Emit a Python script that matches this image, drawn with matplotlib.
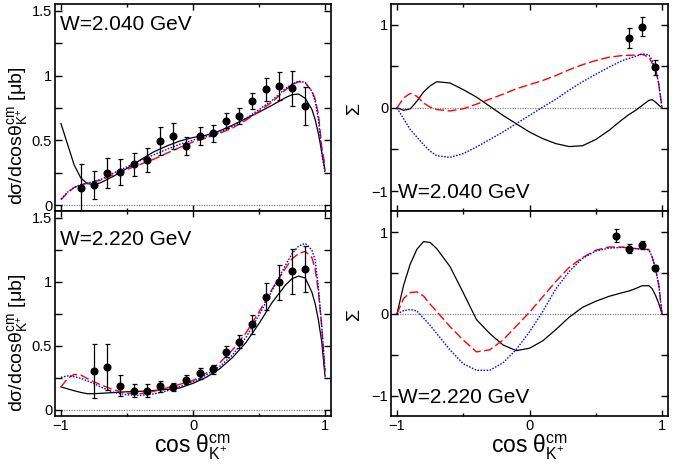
import matplotlib
matplotlib.use('Agg')
import matplotlib.pyplot as plt
from matplotlib.ticker import MultipleLocator, FuncFormatter

plt.rcParams['font.family'] = ['Liberation Sans', 'DejaVu Sans']
plt.rcParams['mathtext.fontset'] = 'custom'
plt.rcParams['mathtext.rm'] = 'Liberation Sans'
plt.rcParams['mathtext.it'] = 'Liberation Sans:italic'
plt.rcParams['mathtext.bf'] = 'Liberation Sans:bold'

cos_grid = [-1, -0.95, -0.9, -0.85, -0.8, -0.75, -0.7, -0.6, -0.5, -0.4, -0.3, -0.2, -0.1, 0,
            0.1, 0.2, 0.3, 0.4, 0.5, 0.6, 0.7, 0.75, 0.8, 0.85, 0.9, 0.925, 0.95, 0.975, 1.0]

# W = 2.040 GeV, cross section
xs1_black = [0.63, 0.47, 0.31, 0.21, 0.165, 0.16, 0.172, 0.224, 0.283, 0.348, 0.41, 0.456, 0.495, 0.522,
             0.54, 0.573, 0.618, 0.668, 0.718, 0.772, 0.83, 0.853, 0.858, 0.825, 0.74, 0.66, 0.55, 0.41, 0.27]
xs1_red = [0.04, 0.095, 0.135, 0.156, 0.168, 0.18, 0.192, 0.235, 0.275, 0.314, 0.353, 0.4, 0.445, 0.488,
           0.518, 0.553, 0.596, 0.655, 0.725, 0.797, 0.89, 0.93, 0.953, 0.945, 0.88, 0.82, 0.7, 0.45, 0.3]
xs1_blue = [0.046, 0.1, 0.137, 0.158, 0.17, 0.183, 0.197, 0.248, 0.295, 0.343, 0.387, 0.43, 0.47, 0.502,
            0.527, 0.56, 0.609, 0.668, 0.738, 0.81, 0.9, 0.935, 0.958, 0.948, 0.88, 0.8, 0.66, 0.4, 0.245]
xs1_cos = [-0.85, -0.75, -0.65, -0.55, -0.45, -0.35, -0.25, -0.15, -0.05,
           0.05, 0.15, 0.25, 0.35, 0.45, 0.55, 0.65, 0.75, 0.85]
xs1_val = [0.134, 0.155, 0.25, 0.255, 0.314, 0.348, 0.495, 0.533, 0.456,
           0.533, 0.554, 0.652, 0.688, 0.807, 0.894, 0.92, 0.902, 0.765]
xs1_err = [0.18, 0.11, 0.116, 0.1, 0.09, 0.09, 0.105, 0.1, 0.07,
           0.07, 0.065, 0.06, 0.06, 0.062, 0.09, 0.11, 0.135, 0.145]

# W = 2.220 GeV, cross section
xs2_black = [0.18, 0.165, 0.15, 0.137, 0.127, 0.127, 0.13, 0.136, 0.142, 0.146, 0.152, 0.16, 0.172, 0.208,
             0.255, 0.32, 0.41, 0.525, 0.675, 0.84, 0.975, 1.025, 1.045, 1.03, 0.92, 0.83, 0.70, 0.53, 0.26]
xs2_red = [0.18, 0.245, 0.278, 0.273, 0.245, 0.22, 0.197, 0.157, 0.13, 0.127, 0.145, 0.172, 0.2, 0.23,
           0.288, 0.366, 0.47, 0.60, 0.765, 0.945, 1.105, 1.18, 1.22, 1.238, 1.19, 1.1, 0.92, 0.65, 0.3]
xs2_blue = [0.255, 0.266, 0.26, 0.247, 0.227, 0.205, 0.18, 0.137, 0.118, 0.114, 0.125, 0.148, 0.182, 0.22,
            0.273, 0.338, 0.43, 0.564, 0.74, 0.935, 1.13, 1.22, 1.28, 1.3, 1.25, 1.17, 0.95, 0.65, 0.3]
xs2_cos = [-0.75, -0.65, -0.55, -0.45, -0.35, -0.25, -0.15, -0.05,
           0.05, 0.15, 0.25, 0.35, 0.45, 0.55, 0.65, 0.75, 0.85]
xs2_val = [0.304, 0.338, 0.19, 0.15, 0.15, 0.184, 0.177, 0.236,
           0.286, 0.317, 0.455, 0.532, 0.67, 0.883, 0.995, 1.083, 1.099]
xs2_err = [0.21, 0.18, 0.08, 0.05, 0.05, 0.045, 0.03, 0.035,
           0.045, 0.035, 0.045, 0.05, 0.075, 0.105, 0.135, 0.177, 0.18]

# W = 2.040 GeV, beam asymmetry
sig1_black = [0, -0.028, -0.012, 0.08, 0.19, 0.265, 0.315, 0.30, 0.22, 0.13, 0.02, -0.09, -0.19, -0.29,
              -0.37, -0.43, -0.465, -0.455, -0.38, -0.27, -0.14, -0.08, -0.03, 0.03, 0.09, 0.1, 0.07, 0.035, 0.0]
sig1_red = [0, 0.12, 0.175, 0.14, 0.06, 0.01, -0.02, -0.036, -0.01, 0.045, 0.105, 0.165, 0.23, 0.28,
            0.33, 0.39, 0.46, 0.52, 0.57, 0.61, 0.63, 0.633, 0.635, 0.645, 0.61, 0.54, 0.47, 0.29, 0.0]
sig1_blue = [0, -0.13, -0.26, -0.35, -0.44, -0.52, -0.575, -0.595, -0.55, -0.47, -0.38, -0.29, -0.19, -0.09,
             0.01, 0.105, 0.215, 0.315, 0.405, 0.49, 0.57, 0.595, 0.62, 0.65, 0.64, 0.57, 0.48, 0.29, 0.0]
sig1_cos = [0.75, 0.85, 0.95]
sig1_val = [0.837, 0.978, 0.487]
sig1_err = [0.12, 0.11, 0.09]

# W = 2.220 GeV, beam asymmetry
sig2_black = [0, 0.35, 0.61, 0.79, 0.885, 0.875, 0.80, 0.58, 0.26, -0.07, -0.24, -0.38, -0.45, -0.42,
              -0.33, -0.19, -0.04, 0.08, 0.155, 0.215, 0.26, 0.28, 0.31, 0.345, 0.345, 0.31, 0.23, 0.13, 0.0]
sig2_red = [0, 0.19, 0.26, 0.27, 0.22, 0.12, 0.03, -0.155, -0.32, -0.465, -0.44, -0.32, -0.15, 0.02,
            0.21, 0.40, 0.57, 0.69, 0.78, 0.82, 0.818, 0.806, 0.8, 0.796, 0.79, 0.70, 0.56, 0.355, 0.0]
sig2_blue = [0, 0.04, 0.055, 0.035, -0.05, -0.14, -0.24, -0.44, -0.61, -0.69, -0.69, -0.6, -0.435, -0.22,
             0.03, 0.31, 0.52, 0.68, 0.77, 0.805, 0.815, 0.81, 0.8, 0.79, 0.785, 0.70, 0.56, 0.355, 0.0]
sig2_cos = [0.65, 0.75, 0.85, 0.95]
sig2_val = [0.955, 0.80, 0.845, 0.56]
sig2_err = [0.08, 0.055, 0.045, 0.04]

W_labels = ['W=2.040 GeV', 'W=2.220 GeV']
xs_label = 'dσ/dcosθ$^{\\mathrm{cm}}_{\\mathrm{K}^{+}}$ [μb]'
x_label = 'cos θ$^{\\mathrm{cm}}_{\\mathrm{K}^{+}}$'

W, H = 684, 466
fig = plt.figure(figsize=(W / 100, H / 100), dpi=100)


def box(x0, y0, x1, y1):
    # pixel box -> figure fraction
    return [x0 / W, 1 - y1 / H, (x1 - x0) / W, (y1 - y0) / H]


ax_tl = fig.add_axes(box(55, 4, 331, 211))
ax_bl = fig.add_axes(box(55, 211, 331, 416))
ax_tr = fig.add_axes(box(391, 4, 668, 211))
ax_br = fig.add_axes(box(391, 211, 668, 416))


def style(ax, ylim, ystep, ylabstep, xlabels):
    ax.set_xlim(-1.045, 1.045)
    ax.set_ylim(*ylim)
    ax.xaxis.set_major_locator(MultipleLocator(1))
    ax.xaxis.set_minor_locator(MultipleLocator(0.5))
    ax.yaxis.set_major_locator(MultipleLocator(ystep))
    # labels only every ylabstep, ticks every ystep
    ax.yaxis.set_major_formatter(FuncFormatter(
        lambda v, p: ('%g' % v).replace('-', '\u2212') if abs(v / ylabstep - round(v / ylabstep)) < 1e-6 else ''))
    ax.tick_params(which='both', direction='in', top=True, right=True, width=1, labelsize=10.5)
    ax.tick_params(axis='y', which='major', length=5, pad=2)
    ax.tick_params(axis='x', which='major', length=4.5, pad=2)
    ax.tick_params(axis='x', which='minor', length=2.2)
    if not xlabels:
        ax.tick_params(axis='x', labelbottom=False)
    for s in ax.spines.values():
        s.set_linewidth(1.2)
    ax.hlines(0, -1, 1, colors='#888888', linestyles=(0, (1, 1)), lw=0.9, zorder=1)


def curves(ax, black, red, blue):
    ax.plot(cos_grid, black, color='black', lw=0.9, zorder=2)
    ax.plot(cos_grid, red, color='red', lw=1.0, dashes=(6.5, 2.5), zorder=3)
    ax.plot(cos_grid, blue, color='blue', lw=1.0, dashes=(1.1, 1.1), zorder=4)


def points(ax, x, y, e):
    ax.errorbar(x, y, yerr=e, fmt='o', color='black', ms=4.8, elinewidth=0.9,
                capsize=1.8, capthick=0.9, zorder=5)


style(ax_tl, (-0.046, 1.554), 0.25, 0.5, False)
style(ax_bl, (-0.047, 1.553), 0.25, 0.5, True)
style(ax_tr, (-1.24, 1.25), 0.5, 1, False)
style(ax_br, (-1.25, 1.26), 0.5, 1, True)

curves(ax_tl, xs1_black, xs1_red, xs1_blue)
points(ax_tl, xs1_cos, xs1_val, xs1_err)
curves(ax_bl, xs2_black, xs2_red, xs2_blue)
points(ax_bl, xs2_cos, xs2_val, xs2_err)
curves(ax_tr, sig1_black, sig1_red, sig1_blue)
points(ax_tr, sig1_cos, sig1_val, sig1_err)
curves(ax_br, sig2_black, sig2_red, sig2_blue)
points(ax_br, sig2_cos, sig2_val, sig2_err)

# panel texts
ax_tl.text(0.018, 0.90, W_labels[0], transform=ax_tl.transAxes, fontsize=15, va='center')
ax_bl.text(0.018, 0.86, W_labels[1], transform=ax_bl.transAxes, fontsize=15, va='center')
ax_tr.text(0.025, 0.087, W_labels[0], transform=ax_tr.transAxes, fontsize=15, va='center')
ax_br.text(0.025, 0.088, W_labels[1], transform=ax_br.transAxes, fontsize=15, va='center')

for ax, yb in [(ax_tl, 0.03), (ax_bl, 0.02)]:
    ax.text(-0.135, yb, xs_label, transform=ax.transAxes, rotation=90,
            ha='center', va='bottom', fontsize=14)
for ax in [ax_tr, ax_br]:
    ax.text(-0.13, 0.5, 'Σ', transform=ax.transAxes, rotation=90,
            ha='center', va='center', fontsize=14)
for ax in [ax_bl, ax_br]:
    ax.set_xlabel(x_label, fontsize=16.5)
    ax.xaxis.set_label_coords(0.5, -0.082)

plt.savefig('out.png', dpi=100)
